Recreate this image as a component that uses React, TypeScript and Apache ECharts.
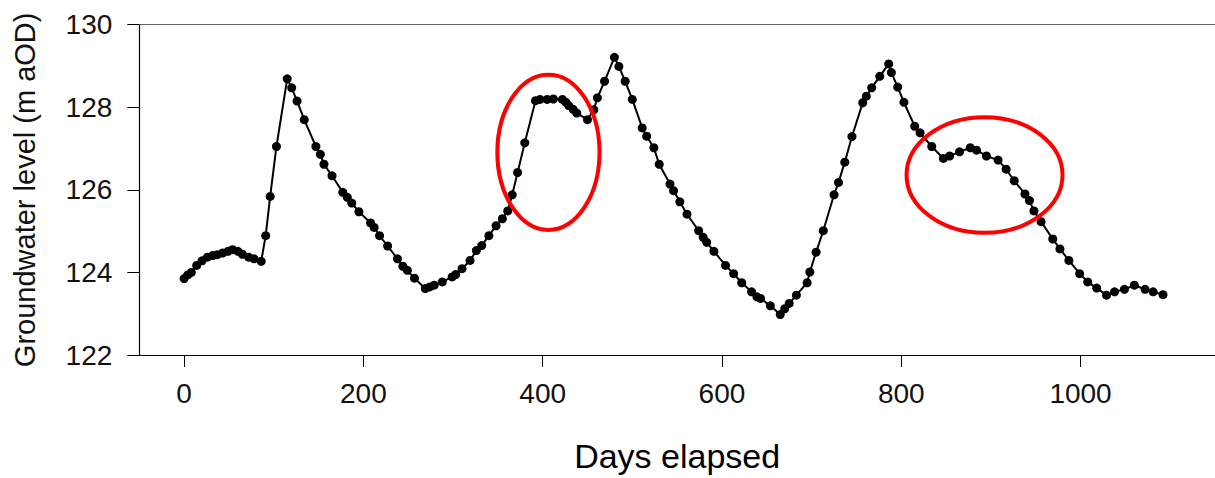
import React, { useEffect, useRef } from "react";
import * as echarts from "echarts";

const days: number[] = [
  0, 4, 8, 14, 20, 26, 32, 37, 43, 49, 54, 60, 65, 72, 78, 86, 91, 96, 103, 115,
  120, 126, 134, 147, 152, 156, 165, 177, 182, 187, 195, 208, 212, 218, 227, 238,
  244, 249, 257, 269, 274, 279, 288, 299, 303, 310, 319, 326, 332, 340, 348, 355,
  361, 366, 372, 380, 392, 397, 405, 412, 422, 426, 429, 434, 438, 450, 457, 461,
  469, 480, 485, 492, 500, 511, 516, 524, 530, 542, 546, 553, 561, 574, 579, 583,
  591, 604, 613, 622, 633, 639, 643, 654, 665, 670, 675, 683, 695, 698, 705, 713,
  725, 730, 737, 745, 757, 761, 767, 776, 786, 789, 796, 803, 815, 821, 834, 847,
  854, 865, 877, 884, 895, 908, 917, 926, 938, 943, 948, 956, 969, 977, 987, 999,
  1008, 1018, 1029, 1038, 1049, 1060, 1072, 1081, 1092,
];

const levels: number[] = [
  123.85, 123.94, 124.0, 124.17, 124.28, 124.37, 124.41, 124.43, 124.47, 124.51,
  124.55, 124.51, 124.44, 124.37, 124.33, 124.27, 124.89, 125.84, 127.05, 128.69,
  128.47, 128.15, 127.7, 127.05, 126.86, 126.62, 126.34, 125.94, 125.82, 125.68,
  125.47, 125.2, 125.09, 124.89, 124.64, 124.33, 124.15, 124.05, 123.86, 123.61,
  123.65, 123.69, 123.77, 123.89, 123.95, 124.09, 124.29, 124.53, 124.65, 124.89,
  125.13, 125.3, 125.49, 125.88, 126.42, 127.14, 128.16, 128.19, 128.19, 128.2,
  128.19, 128.12, 128.04, 127.95, 127.86, 127.7, 127.94, 128.23, 128.63, 129.21,
  128.99, 128.63, 128.19, 127.5, 127.3, 127.02, 126.62, 126.14, 125.98, 125.71,
  125.41, 125.01, 124.85, 124.73, 124.51, 124.17, 123.97, 123.75, 123.53, 123.41,
  123.37, 123.19, 122.98, 123.12, 123.25, 123.45, 123.75, 124.01, 124.49, 125.01,
  125.88, 126.18, 126.67, 127.29, 128.11, 128.27, 128.47, 128.75, 129.05, 128.84,
  128.49, 128.12, 127.54, 127.38, 127.05, 126.76, 126.82, 126.92, 127.02, 126.96,
  126.82, 126.72, 126.5, 126.22, 125.9, 125.74, 125.49, 125.23, 124.81, 124.57,
  124.29, 123.97, 123.77, 123.62, 123.45, 123.53, 123.59, 123.69, 123.59, 123.53,
  123.46,
];

const xTickValues: number[] = [0, 200, 400, 600, 800, 1000];

// Annotation ellipses in data units: [centerDay, centerLevel, radiusDays, radiusLevel]
const highlightEllipses: number[][] = [
  [406.4, 126.91, 57, 1.88],
  [892.9, 126.36, 87, 1.4],
];

const FONT = "'Liberation Sans', Arial, Helvetica, sans-serif";

export default function App() {
  const ref = useRef<HTMLDivElement>(null);

  useEffect(() => {
    if (!ref.current) return;
    const chart = echarts.init(ref.current, undefined, { renderer: "svg" });
    const data = days.map((d, i) => [d, levels[i]]);

    chart.setOption({
      animation: false,
      backgroundColor: "#ffffff",
      grid: { left: 139.3, top: 24.7, right: 0, bottom: 121.3, containLabel: false },
      xAxis: [
        {
          type: "value",
          position: "bottom",
          min: -50,
          max: 1150,
          name: "Days elapsed",
          nameLocation: "middle",
          nameGap: 84,
          nameTextStyle: { fontFamily: FONT, fontSize: 34, color: "#000" },
          axisLine: { show: true, onZero: false, lineStyle: { color: "#000", width: 1.2 } },
          axisTick: {
            show: true,
            length: 12,
            customValues: xTickValues,
            lineStyle: { color: "#000", width: 1 },
          },
          axisLabel: {
            customValues: xTickValues,
            formatter: (v: number) => String(v),
            margin: 24,
            fontFamily: FONT,
            fontSize: 28,
            color: "#111",
          },
          splitLine: { show: false },
        },
        {
          type: "value",
          position: "top",
          min: -50,
          max: 1150,
          axisLine: { show: true, onZero: false, lineStyle: { color: "#666", width: 1.2 } },
          axisTick: { show: false },
          axisLabel: { show: false },
          splitLine: { show: false },
        },
      ],
      yAxis: {
        type: "value",
        min: 122,
        max: 130,
        interval: 2,
        name: "Groundwater level (m aOD)",
        nameLocation: "middle",
        nameGap: 100,
        nameTextStyle: { fontFamily: FONT, fontSize: 29, color: "#111" },
        axisLine: { show: true, onZero: false, lineStyle: { color: "#000", width: 1.2 } },
        axisTick: { show: true, length: 12, lineStyle: { color: "#000", width: 1 } },
        axisLabel: {
          margin: 27,
          formatter: (v: number) => String(v),
          fontFamily: FONT,
          fontSize: 28,
          color: "#111",
        },
        splitLine: { show: false },
      },
      series: [
        {
          type: "line",
          xAxisIndex: 0,
          yAxisIndex: 0,
          data,
          symbol: "circle",
          symbolSize: 9,
          showSymbol: true,
          lineStyle: { color: "#000", width: 2 },
          itemStyle: { color: "#000" },
          silent: true,
        },
      ],
    });

    const graphics = highlightEllipses.map(([cx, cy, rxd, ryd]) => {
      const c = chart.convertToPixel({ xAxisIndex: 0, yAxisIndex: 0 }, [cx, cy]) as number[];
      const e = chart.convertToPixel({ xAxisIndex: 0, yAxisIndex: 0 }, [cx + rxd, cy + ryd]) as number[];
      return {
        type: "ellipse",
        shape: { cx: c[0], cy: c[1], rx: Math.abs(e[0] - c[0]), ry: Math.abs(c[1] - e[1]) },
        style: { fill: "none", stroke: "#ff0000", lineWidth: 4 },
        silent: true,
        z: 10,
      };
    });
    chart.setOption({ graphic: graphics });

    return () => chart.dispose();
  }, []);

  return (
    <div
      ref={ref}
      style={{ position: "fixed", left: 0, top: 0, width: 1215, height: 478, background: "#fff" }}
    />
  );
}
